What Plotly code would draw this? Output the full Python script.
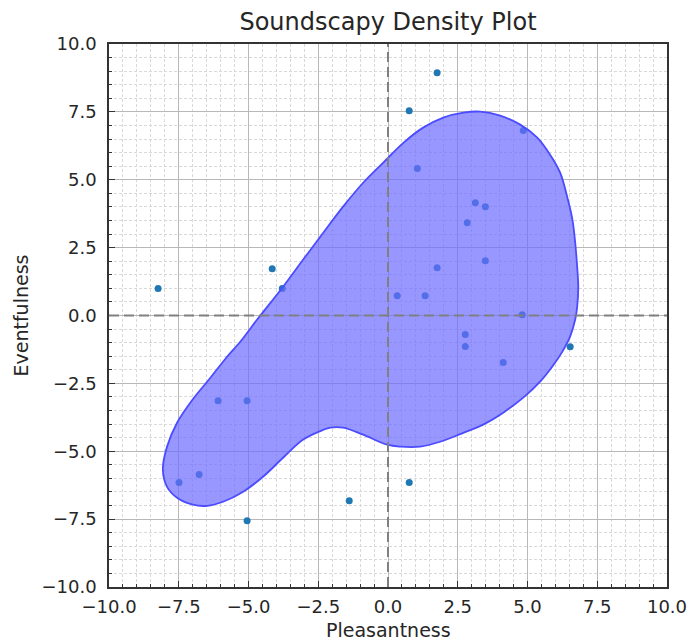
import plotly.graph_objects as go

# ---- data ----
pleasant = [-8.24, -4.15, -3.79, -6.09, -5.05, -7.49, -6.77, -5.05, -1.39, 0.76,
            1.76, 0.76, 1.05, 3.13, 3.49, 2.84, 3.49, 1.76, 0.33, 1.33,
            2.77, 2.77, 4.13, 4.81, 4.85, 6.53]
eventful = [0.99, 1.72, 0.99, -3.14, -3.14, -6.15, -5.86, -7.56, -6.82, -6.15,
            8.94, 7.54, 5.41, 4.15, 4.01, 3.42, 2.02, 1.76, 0.73, 0.73,
            -0.70, -1.14, -1.73, 0.03, 6.81, -1.15]

# density contour outline (single level)
contour_x = [3.31, 4.02, 4.74, 5.35, 5.81, 6.17, 6.42, 6.61, 6.71, 6.78, 6.82, 6.78,
             6.71, 6.53, 6.25, 5.89, 5.46, 4.89, 4.13, 3.41, 2.70, 1.87, 1.15, 0.44,
             -0.03, -0.89, -1.61, -2.07, -2.32, -3.04, -3.76, -4.48, -5.19, -5.91,
             -6.48, -6.99, -7.56, -7.92, -8.07, -7.92, -7.56, -6.99, -6.41, -5.84,
             -5.26, -4.69, -3.76, -3.04, -2.32, -1.61, -0.89, -0.17, 0.55,
             1.26, 1.98, 2.70, 3.31]
contour_y = [7.51, 7.36, 7.03, 6.55, 5.92, 5.26, 4.38, 3.53, 2.68, 1.80, 1.06, 0.32,
             -0.15, -0.77, -1.33, -1.88, -2.43, -2.99, -3.58, -4.02, -4.32, -4.65, -4.83, -4.83,
             -4.76, -4.39, -4.13, -4.13, -4.21, -4.57, -5.24, -5.94, -6.49, -6.86,
             -7.01, -6.97, -6.71, -6.31, -5.68, -4.83, -3.95, -3.08, -2.35, -1.61,
             -0.92, -0.15, 1.06, 2.06, 3.05, 4.01, 4.89, 5.63, 6.36,
             6.92, 7.29, 7.47, 7.51]

axis_range = [-10, 10]
tick_step = 2.5
minor_step = 0.5

TITLE = "Soundscapy Density Plot"
XLABEL = "Pleasantness"
YLABEL = "Eventfulness"

FONT = "DejaVu Sans"
TXT = "#262626"

fig = go.Figure()

fig.add_trace(go.Scatter(
    x=pleasant, y=eventful, mode="markers",
    marker=dict(color="#1f77b4", size=7, line=dict(width=0)),
    showlegend=False, hoverinfo="skip"))

fig.add_trace(go.Scatter(
    x=contour_x, y=contour_y, mode="lines", fill="toself",
    fillcolor="rgba(107,107,255,0.7)",
    line=dict(color="rgb(75,75,255)", width=1.8, shape="spline", smoothing=1.0),
    showlegend=False, hoverinfo="skip"))

# zero reference lines
fig.add_shape(type="line", xref="x", yref="y", x0=0, x1=0, y0=axis_range[0], y1=axis_range[1],
              line=dict(color="#808080", width=2, dash="10px,5px"), layer="above")
fig.add_shape(type="line", xref="x", yref="y", x0=axis_range[0], x1=axis_range[1], y0=0, y1=0,
              line=dict(color="#808080", width=2, dash="10px,5px"), layer="above")

axis_common = dict(
    range=axis_range, tick0=axis_range[0], dtick=tick_step, tickformat=".1f",
    showgrid=True, gridcolor="#b8b8b8", gridwidth=1,
    zeroline=False, showline=True, linecolor="#333333", linewidth=1.5, mirror=True,
    ticks="inside", ticklen=6, tickwidth=1.2, tickcolor="#333333",
    tickfont=dict(family=FONT, size=18, color=TXT),
    minor=dict(dtick=minor_step, tick0=axis_range[0], ticks="inside", ticklen=3.5,
               tickwidth=1, tickcolor="#333333", showgrid=True,
               gridcolor="#d9d9d9", gridwidth=1, griddash="3px,2px"),
    fixedrange=True, automargin=False,
)

fig.update_xaxes(**axis_common, ticklabelstandoff=3)
fig.update_yaxes(**axis_common, ticklabelstandoff=7)

fig.update_layout(
    width=689, height=641,
    margin=dict(l=109, r=22, t=44, b=54, autoexpand=False),
    plot_bgcolor="white", paper_bgcolor="white",
    title=dict(text=TITLE, x=0.5, xref="paper", y=1 - 22 / 641, yref="container",
               xanchor="center", yanchor="middle",
               font=dict(family=FONT, size=24, color=TXT)),
    annotations=[
        dict(text=XLABEL, x=0.5, y=(587 - 630) / 543, xref="paper", yref="paper",
             xanchor="center", yanchor="middle", showarrow=False,
             font=dict(family=FONT, size=19, color=TXT)),
        dict(text=YLABEL, x=(20 - 109) / 558, y=0.5, xref="paper", yref="paper",
             xanchor="center", yanchor="middle", showarrow=False, textangle=-90,
             font=dict(family=FONT, size=19, color=TXT)),
    ],
)

fig.write_html("out.html")
